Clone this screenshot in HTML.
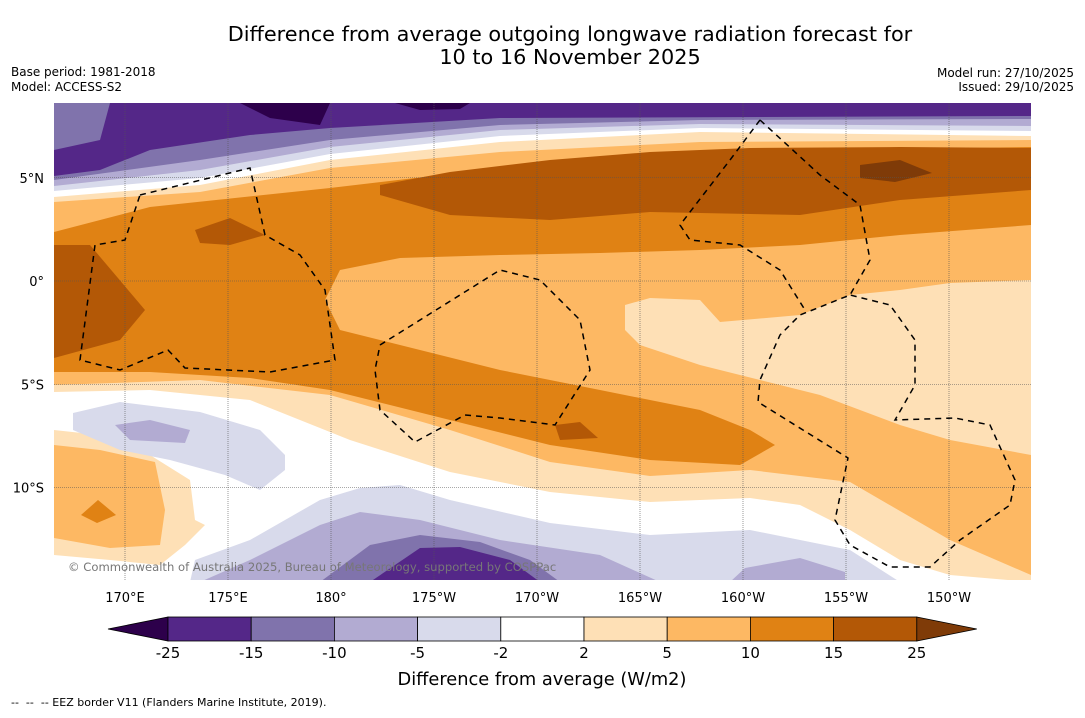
<!DOCTYPE html>
<html><head><meta charset="utf-8"><style>
body{margin:0;background:#fff;width:1085px;height:713px;overflow:hidden;font-family:"Liberation Sans","DejaVu Sans",sans-serif;}
svg text{font-family:"DejaVu Sans","Liberation Sans",sans-serif;}
</style></head><body>
<svg id="chart" width="1085" height="713" viewBox="0 0 1085 713" xmlns="http://www.w3.org/2000/svg">
<text x="570" y="41" font-size="20.8" text-anchor="middle">Difference from average outgoing longwave radiation forecast for</text>
<text x="570" y="64" font-size="20.8" text-anchor="middle">10 to 16 November 2025</text>
<text x="11" y="76" font-size="12">Base period: 1981-2018</text>
<text x="11" y="91" font-size="12">Model: ACCESS-S2</text>
<text x="1074" y="77" font-size="12" text-anchor="end">Model run: 27/10/2025</text>
<text x="1074" y="91" font-size="12" text-anchor="end">Issued: 29/10/2025</text>
<defs><clipPath id="mc"><rect x="54" y="103" width="977" height="477"/></clipPath></defs>
<g id="map" clip-path="url(#mc)">
<rect x="54" y="103" width="977" height="477" fill="#fdb863"/>
<g id="fills"></g>
<g id="grid"></g>
<g id="eez" fill="none" stroke="#000" stroke-width="1.5" stroke-dasharray="6,5"></g>
<text x="68" y="571" font-size="11.6" fill="#777">© Commonwealth of Australia 2025, Bureau of Meteorology, supported by COSPPac</text>
</g>
<g id="axes"></g>
<g id="colorbar"></g>
<text x="542" y="685" font-size="17.8" text-anchor="middle">Difference from average (W/m2)</text>
<text x="11" y="706" font-size="11" xml:space="preserve">--  --  -- EEZ border V11 (Flanders Marine Institute, 2019).</text>
</svg>
<script>
const levels=[-25,-15,-10,-5,-2,2,5,10,15,25];
const colors=['#2d004b','#542788','#8073ac','#b2abd2','#d8daeb','#ffffff','#fee0b6','#fdb863','#e08214','#b35806','#7f3b08'];
const lonTicks=[170,175,180,-175,-170,-165,-160,-155,-150];
const lonLabels=['170°E','175°E','180°','175°W','170°W','165°W','160°W','155°W','150°W'];
const latTicks=[5,0,-5,-10];
const latLabels=['5°N','0°','5°S','10°S'];
const NS='http://www.w3.org/2000/svg';
function mk(tag,attrs,parent){const e=document.createElementNS(NS,tag);for(const k in attrs)e.setAttribute(k,attrs[k]);parent.appendChild(e);return e;}
function xLon(l){const e=l<0?360+l:l;return 125+(e-170)*20.6;}
function yLat(l){return 281-l*20.65;}
const grid=document.getElementById('grid'),axes=document.getElementById('axes');
lonTicks.forEach((l,i)=>{const x=xLon(l);
 const g=mk('line',{x1:x,x2:x,y1:103,y2:580,stroke:'#555','stroke-width':0.6,'stroke-dasharray':'1,1'},grid);
 
 const t=mk('text',{x:x,y:602,'font-size':13,'text-anchor':'middle'},axes);t.textContent=lonLabels[i];
 });
latTicks.forEach((l,i)=>{const y=yLat(l);
 const g=mk('line',{x1:54,x2:1031,y1:y,y2:y,stroke:'#555','stroke-width':0.6,'stroke-dasharray':'1,1'},grid);
 
 const t=mk('text',{x:44,y:y+5,'font-size':13,'text-anchor':'end'},axes);t.textContent=latLabels[i];
 });
const C={p0:colors[0],p1:colors[1],p2:colors[2],p3:colors[3],p4:colors[4],w:colors[5],o1:colors[6],o2:colors[7],o3:colors[8],o4:colors[9],o5:colors[10]};
function topPoly(pts){return '54,103 '+pts+' 1031,103';}
const shapes=[
 [C.o1,topPoly('54,202 200,192 330,168 500,152 700,142 1031,140')],
 [C.w,topPoly('54,197 200,185 330,160 500,142 700,132 1031,136')],
 [C.p4,topPoly('54,191 200,178 330,154 500,136 700,128 1031,131')],
 [C.p3,topPoly('54,186 200,170 330,147 500,130 700,124 1031,126')],
 [C.p2,topPoly('54,180 200,160 330,140 500,125 700,120 1031,119')],
 [C.p1,topPoly('54,176 100,170 150,150 250,135 330,128 500,118 1031,116')],
 [C.p2,'54,103 110,103 100,140 54,150'],
 [C.p0,'240,103 330,103 320,125 270,118'],
 [C.p0,'395,103 470,103 460,109 420,110'],
 [C.o3,'54,232 150,207 330,188 500,168 700,152 1031,147 1031,225 900,235 800,245 700,250 600,253 500,255 400,258 340,270 325,300 340,330 400,345 500,370 600,390 700,410 750,430 775,445 740,465 650,460 550,445 450,420 330,390 250,378 150,372 54,372'],
 [C.o4,'380,185 450,172 550,160 650,152 750,148 900,147 1031,148 1031,190 900,200 800,215 650,212 550,220 450,215 380,195'],
 [C.o4,'54,245 90,245 145,310 120,340 54,358'],
 [C.o4,'195,230 230,218 265,235 230,245 200,243'],
 [C.o5,'860,165 900,160 932,173 895,182 860,178'],
 [C.o4,'555,425 580,422 598,438 560,440'],
 [C.o1,'625,305 650,298 700,300 720,322 800,315 850,295 900,290 950,283 1031,280 1031,455 950,440 900,425 820,395 760,380 700,365 640,345 625,330'],
 [C.o1,'54,385 200,380 330,395 450,430 550,462 650,476 750,470 850,482 950,540 1031,575 1031,580 54,580'],
 [C.w,'54,392 150,390 250,400 350,440 450,472 550,492 650,502 750,498 800,505 850,530 900,560 950,575 1031,582 54,582'],
 [C.o1,'54,430 100,435 150,455 190,480 195,520 205,525 185,545 160,565 110,560 54,555'],
 [C.o2,'54,445 100,450 155,462 165,510 160,545 110,548 54,538'],
 [C.o3,'81,515 98,500 116,515 97,523'],
 [C.p4,'73,413 120,402 200,412 260,430 285,455 285,470 260,490 225,475 170,460 120,450 73,430'],
 [C.p4,'190,582 195,560 250,540 320,500 360,488 400,485 450,500 550,523 650,535 750,530 850,550 900,582'],
 [C.p3,'115,425 150,420 190,430 185,443 130,440'],
 [C.p3,'200,582 250,560 320,525 360,512 420,520 500,540 600,555 660,582'],
 [C.p3,'730,582 745,568 800,558 845,572 845,582'],
 [C.p2,'320,582 370,545 420,535 480,542 530,560 560,582'],
 [C.p1,'370,582 420,548 460,547 510,560 540,582']
];
const fills=document.getElementById('fills');
shapes.forEach(s=>{const p=mk('polygon',{points:s[1],fill:s[0]},fills);
 });
const eezLines=[
 '140,195 250,168 265,235 300,255 325,290 335,360 270,372 185,368 168,350 120,370 80,360 95,245 125,240 140,195',
 '760,120 820,175 860,205 870,260 850,295 800,315 780,335 760,380 758,402 848,458 835,520 850,545 890,567 930,567 960,540 1010,505 1015,480 990,425 955,418 895,420 915,385 915,340 890,305 850,295',
 '380,345 460,295 500,270 540,280 580,320 590,370 555,425 500,418 465,415 415,442 380,410 375,370 380,345',
 '760,120 730,160 680,225 690,240 740,245 780,270 805,310'
];
const eez=document.getElementById('eez');
eezLines.forEach(d=>{const p=mk('polyline',{points:d},eez);
 });
const cb=document.getElementById('colorbar');
const cbX0=168,cbW=83.2,cbY=617,cbH=24;
const tri1=mk('polygon',{points:`108,${cbY+cbH/2} ${cbX0},${cbY} ${cbX0},${cbY+cbH}`,fill:colors[0],stroke:'#000','stroke-width':0.8},cb);

for(let i=0;i<levels.length-1;i++){
 const r=mk('rect',{x:cbX0+i*cbW,y:cbY,width:cbW,height:cbH,fill:colors[i+1],stroke:'#000','stroke-width':0.8},cb);
 }
const xe=cbX0+(levels.length-1)*cbW;
const tri2=mk('polygon',{points:`${xe},${cbY} ${xe+60},${cbY+cbH/2} ${xe},${cbY+cbH}`,fill:colors[10],stroke:'#000','stroke-width':0.8},cb);

levels.forEach((v,i)=>{const t=mk('text',{x:cbX0+i*cbW,y:658,'font-size':15,'text-anchor':'middle'},cb);t.textContent=v;
 });
</script>
</body></html>
